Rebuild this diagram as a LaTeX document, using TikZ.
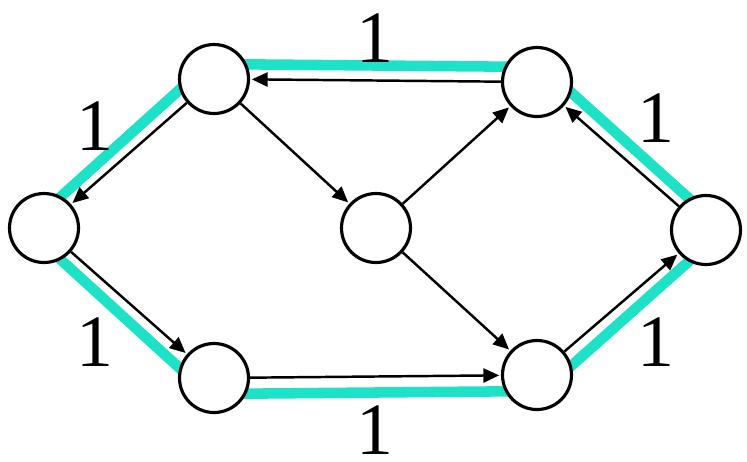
\documentclass[tikz,border=0pt]{standalone}
\usepackage{fontspec}
\setmainfont{Liberation Serif}
\usetikzlibrary{arrows.meta}
\definecolor{turq}{RGB}{30,226,200}
\begin{document}
\begin{tikzpicture}[x=0.02cm,y=-0.02cm,
 vert/.style={circle,draw,line width=1.8pt,fill=white,minimum size=1.38cm,inner sep=0},
 arr/.style={-{Triangle[length=9pt,width=8pt]},line width=1.4pt,shorten >=1pt},
 lab/.style={font=\fontsize{42}{42}\selectfont,inner sep=0pt}]
\useasboundingbox (0,0) rectangle (747,461);
\draw[line width=6pt,color=turq] (26,228) -- (208,64) -- (543,67) -- (724,230) -- (543,391) -- (208,394) -- cycle;
\node[vert] (A) at (214,79) {};
\node[vert] (B) at (537,82) {};
\node[vert] (C) at (44,228) {};
\node[vert] (D) at (376,228) {};
\node[vert] (E) at (706,230) {};
\node[vert] (F) at (214,378) {};
\node[vert] (G) at (537,375) {};
\draw[arr] (A) -- (C);
\draw[arr] (A) -- (D);
\draw[arr] (B) -- (A);
\draw[arr] (C) -- (F);
\draw[arr] (D) -- (B);
\draw[arr] (D) -- (G);
\draw[arr] (E) -- (B);
\draw[arr] (F) -- (G);
\draw[arr] (G) -- (E);
\node[lab] (l1) at (375,38) {1};
\node[lab] (l2) at (95,126) {1};
\node[lab] (l3) at (95,342) {1};
\node[lab] (l4) at (375,430) {1};
\node[lab] (l5) at (656,118) {1};
\node[lab] (l6) at (656,342) {1};
\end{tikzpicture}
\end{document}
